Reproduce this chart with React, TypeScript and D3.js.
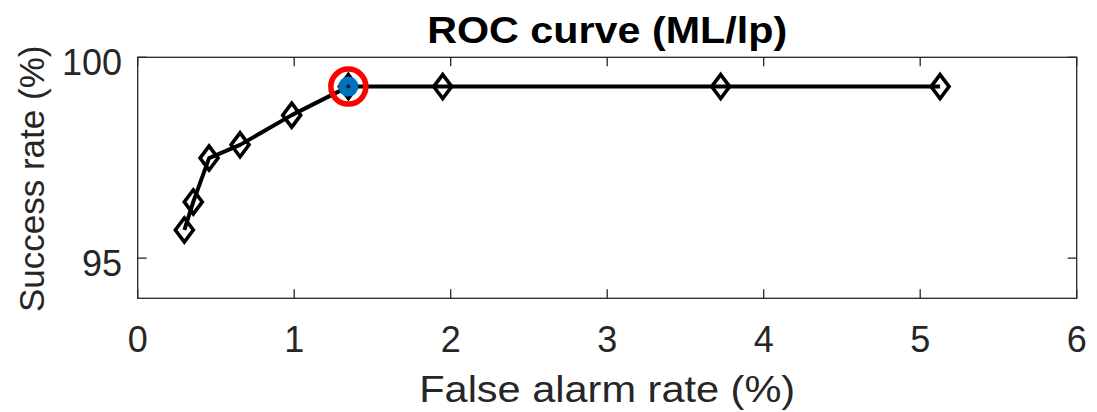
import React from "react";
import * as d3 from "d3";

const falseAlarm = [0.298, 0.355, 0.456, 0.654, 0.984, 1.346, 1.949, 3.725, 5.127];
const successRate = [95.7, 96.4, 97.49, 97.82, 98.56, 99.27, 99.27, 99.27, 99.27];
const highlightIndex = 5;
const xTicks = [0, 1, 2, 3, 4, 5, 6];
const yTicks = [95, 100];
const title = "ROC curve (ML/lp)";
const xLabel = "False alarm rate (%)";
const yLabel = "Success rate (%)";

const W = 1097;
const H = 412;
const M = { left: 137.7, right: 1076.7, top: 57.3, bottom: 298.3 };

export default function App() {
  const x = d3.scaleLinear().domain([0, 6]).range([M.left, M.right]);
  const y = d3.scaleLinear().domain([94, 100]).range([M.bottom, M.top]);
  const line = d3
    .line<number>()
    .x((_, i) => x(falseAlarm[i]))
    .y((d) => y(d));
  const axisColor = "#262626";
  const font = "'Liberation Sans', Arial, Helvetica, sans-serif";
  const tl = 9;
  const dw = 9;
  const dh = 12;
  const diamond = (cx: number, cy: number) =>
    `M${cx},${cy - dh}L${cx + dw},${cy}L${cx},${cy + dh}L${cx - dw},${cy}Z`;
  const hx = x(falseAlarm[highlightIndex]);
  const hy = y(successRate[highlightIndex]);
  return (
    <svg
      width={W}
      height={H}
      style={{ position: "absolute", left: 0, top: 0, background: "#fff" }}
    >
      <rect x={0} y={0} width={W} height={H} fill="#fff" />
      <rect
        x={M.left}
        y={M.top}
        width={M.right - M.left}
        height={M.bottom - M.top}
        fill="none"
        stroke={axisColor}
        strokeWidth={1.3}
      />
      {xTicks.map((t) => (
        <g key={"xt" + t}>
          <line x1={x(t)} x2={x(t)} y1={M.bottom} y2={M.bottom - tl} stroke={axisColor} strokeWidth={1.3} />
          <line x1={x(t)} x2={x(t)} y1={M.top} y2={M.top + tl} stroke={axisColor} strokeWidth={1.3} />
          <text
            x={x(t)}
            y={352}
            textAnchor="middle"
            fontFamily={font}
            fontSize={36}
            fill={axisColor}
          >
            {t}
          </text>
        </g>
      ))}
      {yTicks.map((t) => (
        <g key={"yt" + t}>
          <line x1={M.left} x2={M.left + tl} y1={y(t)} y2={y(t)} stroke={axisColor} strokeWidth={1.3} />
          <line x1={M.right} x2={M.right - tl} y1={y(t)} y2={y(t)} stroke={axisColor} strokeWidth={1.3} />
          <text
            x={122}
            y={y(t) + 18}
            textAnchor="end"
            fontFamily={font}
            fontSize={36}
            fill={axisColor}
          >
            {t}
          </text>
        </g>
      ))}
      <path d={line(successRate) || ""} fill="none" stroke="#000" strokeWidth={4} strokeLinejoin="round" />
      {successRate.map((v, i) => (
        <path
          key={"m" + i}
          d={diamond(x(falseAlarm[i]), y(v))}
          fill="none"
          stroke="#000"
          strokeWidth={3.6}
          strokeLinejoin="miter"
        />
      ))}
      <circle cx={hx} cy={hy} r={10} fill="#0072BD" />
      <circle cx={hx} cy={hy} r={2} fill="#1a1a1a" />
      <circle cx={hx} cy={hy} r={17.5} fill="none" stroke="#FF0000" strokeWidth={5.5} />
      <text
        x={(M.left + M.right) / 2}
        y={43}
        textAnchor="middle"
        fontFamily={font}
        fontWeight="bold"
        fontSize={37}
        fill="#000"
        textLength={360}
        lengthAdjust="spacingAndGlyphs"
      >
        {title}
      </text>
      <text
        x={(M.left + M.right) / 2}
        y={402}
        textAnchor="middle"
        fontFamily={font}
        fontSize={37}
        fill={axisColor}
        textLength={376}
        lengthAdjust="spacingAndGlyphs"
      >
        {xLabel}
      </text>
      <text
        transform={`translate(44,${(M.top + M.bottom) / 2 + 1}) rotate(-90)`}
        textAnchor="middle"
        fontFamily={font}
        fontSize={35}
        fill={axisColor}
      >
        {yLabel}
      </text>
    </svg>
  );
}
